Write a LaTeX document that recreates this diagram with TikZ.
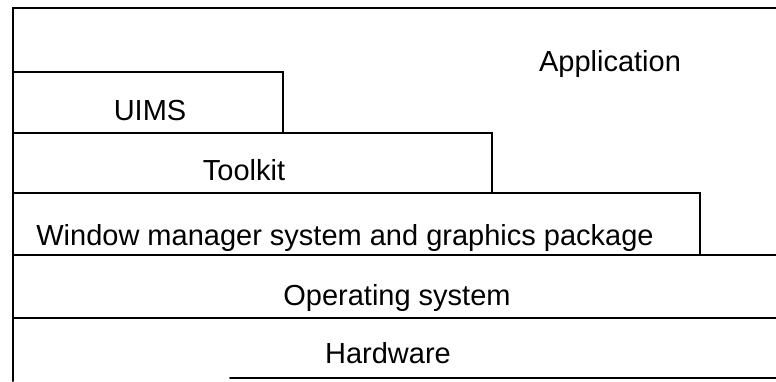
\documentclass[tikz,border=0pt]{standalone}
\usepackage{fontspec}
\setmainfont{Liberation Sans}
\usetikzlibrary{positioning}
\tikzstyle{label} = [font=\fontsize{29}{34}\selectfont, anchor=base, inner sep=0pt]
\tikzstyle{edge} = [line width=2pt, line cap=round, line join=miter]

\begin{document}
\begin{tikzpicture}[x=1pt, y=1pt]
\useasboundingbox (0,0) rectangle (776,381);

% Layer outlines
\draw[edge] (13,0) -- (13,373) -- (776,373);
\draw[edge] (13,309) -- (283,309) -- (283,248);
\draw[edge] (13,248) -- (492,248) -- (492,188);
\draw[edge] (13,188) -- (700,188) -- (700,126);
\draw[edge] (13,126) -- (776,126);
\draw[edge] (13,63) -- (776,63);
\draw[edge] (230,3) -- (776,3);

% Labels
\node (APP) [label] at (610,309) {Application};
\node (UIMS) [label] at (150,261) {UIMS};
\node (TOOLKIT) [label] at (244,201) {Toolkit};
\node (WMS) [label] at (345,136) {Window manager system and graphics package};
\node (OS) [label] at (397,76) {Operating system};
\node (HW) [label] at (388,18) {Hardware};

\end{tikzpicture}
\end{document}
